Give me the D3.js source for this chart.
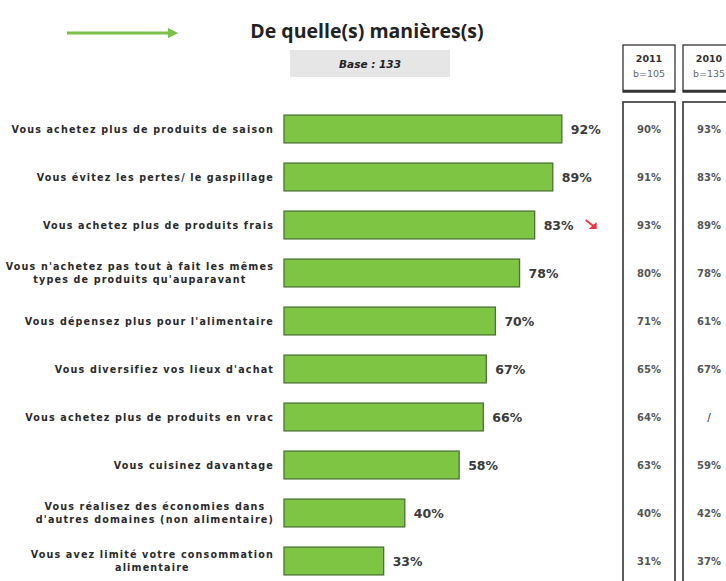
<!DOCTYPE html>
<html>
<head>
<meta charset="utf-8">
<script src="https://cdn.jsdelivr.net/npm/d3@7"></script>
<style>
  body { margin: 0; background: #fff; }
  svg { display: block; font-family: "DejaVu Sans", Verdana, sans-serif; }
</style>
</head>
<body>
<svg id="chart" width="726" height="581"></svg>
<script>
const categories = [
  ["Vous achetez plus de produits de saison"],
  ["Vous évitez les pertes/ le gaspillage"],
  ["Vous achetez plus de produits frais"],
  ["Vous n'achetez pas tout à fait les mêmes", "types de produits qu'auparavant"],
  ["Vous dépensez plus pour l'alimentaire"],
  ["Vous diversifiez vos lieux d'achat"],
  ["Vous achetez plus de produits en vrac"],
  ["Vous cuisinez davantage"],
  ["Vous réalisez des économies dans", "d'autres domaines (non alimentaire)"],
  ["Vous avez limité votre consommation", "alimentaire"]
];
const values2012 = [92, 89, 83, 78, 70, 67, 66, 58, 40, 33];
const values2011 = ["90%", "91%", "93%", "80%", "71%", "65%", "64%", "63%", "40%", "31%"];
const values2010 = ["93%", "83%", "89%", "78%", "61%", "67%", "/", "59%", "42%", "37%"];
const downFlags = [false, false, true, false, false, false, false, false, false, false];
const columns = [{year: "2011", base: "b=105", vals: values2011},
                 {year: "2010", base: "b=135", vals: values2010}];

const svg = d3.select("#chart");

const x = d3.scaleLinear().domain([0, 100]).range([284, 586]);
const y = d3.scaleBand().domain(d3.range(categories.length)).range([105, 585]).paddingInner(0.42).paddingOuter(0.21);

// header arrow
svg.append("defs").append("marker")
  .attr("id", "head").attr("viewBox", "0 0 10 10").attr("refX", 5).attr("refY", 5)
  .attr("markerWidth", 3.5).attr("markerHeight", 3.5).attr("orient", "auto")
  .append("path").attr("d", "M0,0 L10,5 L0,10 z").attr("fill", "#7cbf4a");
svg.append("line")
  .attr("x1", 67).attr("x2", 173).attr("y1", 33).attr("y2", 33)
  .attr("stroke", "#7cbf4a").attr("stroke-width", 3)
  .attr("marker-end", "url(#head)");

svg.append("text")
  .attr("x", 367).attr("y", 38).attr("text-anchor", "middle")
  .attr("font-size", 19.5).attr("font-weight", "bold").attr("fill", "#222")
  .attr("font-family", "'Open Sans', sans-serif")
  .text("De quelle(s) manières(s)");

svg.append("rect").attr("x", 290).attr("y", 50).attr("width", 160).attr("height", 27)
  .attr("fill", "#e6e6e6");
svg.append("text")
  .attr("x", 370).attr("y", 68).attr("text-anchor", "middle")
  .attr("font-size", 10.5).attr("font-weight", "bold").attr("font-style", "italic").attr("fill", "#222")
  .text("Base :  133");

// category labels
const lab = svg.append("g").selectAll("text").data(categories).join("text")
  .attr("text-anchor", "end").attr("font-size", 9.6).attr("font-weight", "bold").attr("fill", "#2a2a2a")
  .attr("letter-spacing", 1.15)
  .attr("y", (d, i) => y(i) + y.bandwidth() / 2 + 3.5 - (d.length - 1) * 6.5);
lab.selectAll("tspan").data(d => d).join("tspan")
  .attr("x", 274)
  .attr("dy", (d, i) => i === 0 ? 0 : 13)
  .text(d => d);
// two-line labels: centre both lines on the wider one
lab.each(function(d) {
  if (d.length > 1) {
    const t = d3.select(this).selectAll("tspan");
    const w = d3.max(t.nodes(), n => n.getComputedTextLength());
    t.attr("text-anchor", "middle").attr("x", 274 - w / 2);
  }
});

// bars
svg.append("g").selectAll("rect").data(values2012).join("rect")
  .attr("x", x(0)).attr("y", (d, i) => y(i))
  .attr("width", d => x(d) - x(0)).attr("height", y.bandwidth())
  .attr("fill", "#7ec544").attr("stroke", "#4b7330").attr("stroke-width", 1.3);

svg.append("g").selectAll("text").data(values2012).join("text")
  .attr("x", d => x(d) + 9).attr("y", (d, i) => y(i) + y.bandwidth() / 2 + 5)
  .attr("font-size", 12.5).attr("font-weight", "bold").attr("fill", "#3a3a3a")
  .text(d => d + "%");

// red down arrows
values2012.forEach((v, i) => {
  if (!downFlags[i]) return;
  const ax = x(v) + 51, ay = y(i) + y.bandwidth() / 2 - 5;
  svg.append("line").attr("x1", ax).attr("y1", ay).attr("x2", ax + 9).attr("y2", ay + 7)
    .attr("stroke", "#e8383d").attr("stroke-width", 1.8);
  svg.append("path").attr("d", `M${ax + 11},${ay + 9} L${ax + 3},${ay + 9} L${ax + 11},${ay + 2} Z`)
    .attr("fill", "#e8383d");
});

// comparison columns
const colX = [623, 683], colW = 52;
columns.forEach((c, k) => {
  const cx = colX[k];
  svg.append("rect").attr("x", cx).attr("y", 45).attr("width", colW).attr("height", 47)
    .attr("fill", "none").attr("stroke", "#333").attr("stroke-width", 1.3);
  svg.append("line").attr("x1", cx).attr("x2", cx + colW).attr("y1", 91).attr("y2", 91)
    .attr("stroke", "#333").attr("stroke-width", 2.5);
  svg.append("text").attr("x", cx + colW / 2).attr("y", 62).attr("text-anchor", "middle")
    .attr("font-size", 9.5).attr("font-weight", "bold").attr("fill", "#333").text(c.year);
  svg.append("text").attr("x", cx + colW / 2).attr("y", 77).attr("text-anchor", "middle")
    .attr("font-size", 9.5).attr("fill", "#666").text(c.base);
  svg.append("rect").attr("x", cx).attr("y", 102).attr("width", colW).attr("height", 500)
    .attr("fill", "none").attr("stroke", "#333").attr("stroke-width", 1.6);
  svg.append("g").selectAll("text").data(c.vals).join("text")
    .attr("x", cx + colW / 2).attr("y", (d, i) => y(i) + y.bandwidth() / 2 + 4)
    .attr("text-anchor", "middle").attr("font-size", 10).attr("font-weight", "bold").attr("fill", "#555")
    .text(d => d);
});
</script>
</body>
</html>
